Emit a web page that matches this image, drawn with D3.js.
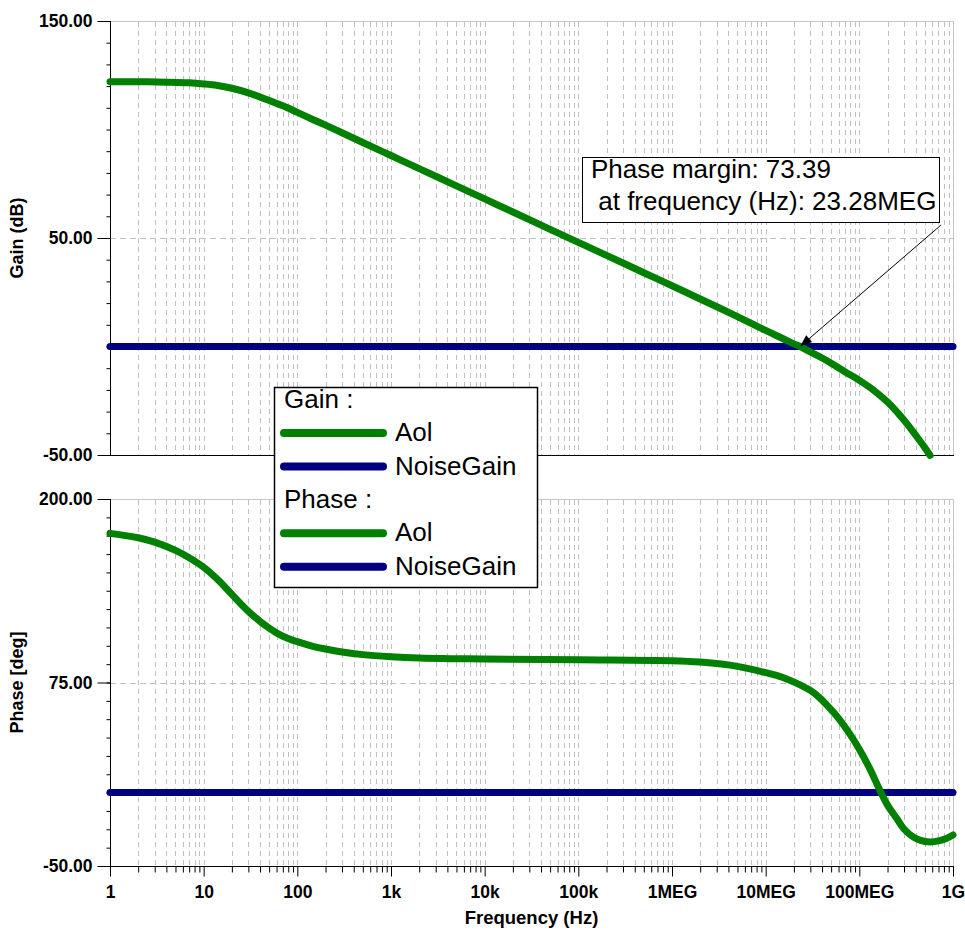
<!DOCTYPE html>
<html><head><meta charset="utf-8">
<script src="https://cdn.jsdelivr.net/npm/d3@7"></script>
<style>
html,body{margin:0;padding:0;background:#fff;}
svg{display:block;font-family:"Liberation Sans",Arial,Helvetica,sans-serif;}
</style></head>
<body>
<svg id="chart" width="965" height="932"></svg>
<script>
// ---------- data ----------
const gainFreq = [1,2,4,7,10,14,20,30,50,70,100,150,200,300,500,1e3,2e3,5e3,1e4,2e4,5e4,1e5,2e5,5e5,1e6,2e6,5e6,1e7,1.5e7,2e7,2.328e7,3e7,4e7,5e7,7e7,1e8,1.4e8,2e8,2.6e8,3.2e8,4e8,5e8,5.7e8];
const gainAol  = [122.0,122.0,121.8,121.5,121.0,120.3,119.0,116.9,113.4,110.9,107.9,104.4,102.0,98.5,94.0,88.0,82.0,74.0,68.0,62.0,54.0,48.0,42.0,34.0,28.0,21.9,13.8,7.4,3.8,1.2,0.0,-2.5,-5.3,-7.7,-11.6,-15.6,-19.9,-25.6,-30.8,-35.4,-40.9,-46.6,-50.2];
const phaseFreq = [1,2,3,5,7,10,15,20,30,50,70,100,150,200,300,500,1e3,2e3,5e3,1e4,1e5,1e6,2e6,5e6,1e7,1.5e7,2.328e7,3e7,3.7e7,4.46e7,6e7,8e7,1e8,1.3e8,1.66e8,2e8,2.5e8,3e8,3.75e8,4.5e8,5.68e8,7e8,8.5e8,1e9];
const phaseAol  = [176.6,173.6,170.6,165.0,160.0,153.5,143.5,135.0,123.5,112.0,106.5,102.8,99.5,97.8,95.8,94.0,92.6,91.7,91.2,91.0,90.5,89.9,88.9,86.0,81.7,78.6,73.39,69.6,65.1,59.9,50.6,39.5,29.5,16.0,1.5,-8.5,-17.5,-24.8,-30.2,-32.6,-33.6,-32.9,-31.2,-28.9];
const noiseFreq = [1,1e9];
const noiseGainGain  = [0,0];
const noiseGainPhase = [0,0];
const xTickValues = [1,10,100,1e3,1e4,1e5,1e6,1e7,1e8,1e9];
const xTickLabels = ["1","10","100","1k","10k","100k","1MEG","10MEG","100MEG","1G"];
const gainTicks = [150,50,-50];
const phaseTicks = [200,75,-50];
const legendGroups = ["Gain :","Phase :"];
const legendSeries = ["Aol","NoiseGain"];
const pmFreq = 23.28e6, pmGain = 0;
const annotationLines = ["Phase margin: 73.39"," at frequency (Hz): 23.28MEG"];

// ---------- layout ----------
const GREEN="#008000", NAVY="#000080", GRID="#c0c0c0";
const L=110, R=953;
const topP={t:21,b:455}, botP={t:499,b:866};
const svg=d3.select("#chart");

const x=d3.scaleLog().domain([1,1e9]).range([L,R]);
const yG=d3.scaleLinear().domain([-50,150]).range([topP.b,topP.t]);
const yP=d3.scaleLinear().domain([-50,200]).range([botP.b,botP.t]);

const minorX=[];
for(let d=0;d<9;d++) for(let k=2;k<=10;k++) minorX.push(k*Math.pow(10,d));

function panel(y,p,ticks,minorStep,gridVals,title){
  const g=svg.append("g");
  g.append("line").attr("x1",L).attr("x2",R+0.5).attr("y1",p.t+0.5).attr("y2",p.t+0.5).attr("stroke","#c8c8c8");
  g.append("line").attr("x1",R+0.5).attr("x2",R+0.5).attr("y1",p.t).attr("y2",p.b).attr("stroke","#c8c8c8");
  g.selectAll(".vg").data(minorX).enter().append("line")
    .attr("x1",d=>Math.round(x(d))+0.5).attr("x2",d=>Math.round(x(d))+0.5)
    .attr("y1",p.t+1).attr("y2",p.b)
    .attr("stroke",GRID).attr("stroke-dasharray","5,4");
  g.selectAll(".hg").data(gridVals).enter().append("line")
    .attr("x1",L).attr("x2",R).attr("y1",d=>Math.round(y(d))+0.5).attr("y2",d=>Math.round(y(d))+0.5)
    .attr("stroke",GRID).attr("stroke-dasharray","6,4");
  const [lo,hi]=y.domain();
  const minorY=d3.range(lo,hi+0.001,minorStep);
  const aMin=d3.axisLeft(y).tickValues(minorY).tickSize(4).tickFormat("");
  const gm=g.append("g").attr("transform",`translate(${L+0.5},0)`).call(aMin);
  gm.select(".domain").remove();
  const aMaj=d3.axisLeft(y).tickValues(ticks).tickSize(13).tickPadding(5).tickFormat(d=>d.toFixed(2));
  const ga=g.append("g").attr("transform",`translate(${L+0.5},0)`).call(aMaj);
  ga.select(".domain").attr("d",`M0,${p.t}V${p.b}`).attr("stroke","#000");
  ga.selectAll("text").attr("font-size","17.5px").attr("font-weight","bold").attr("fill","#000")
    .attr("font-family","Liberation Sans, Arial, sans-serif");
  g.append("line").attr("x1",L).attr("x2",R+1).attr("y1",p.b+0.5).attr("y2",p.b+0.5).attr("stroke","#000").attr("stroke-width",1.2);
  svg.append("text").attr("transform",`translate(23,${(p.t+p.b)/2}) rotate(-90)`)
    .attr("text-anchor","middle").attr("font-size","18px").attr("font-weight","bold").text(title);
  return g;
}
panel(yG,topP,gainTicks,10,[50],"Gain (dB)");
panel(yP,botP,phaseTicks,12.5,[75],"Phase [deg]");

// x axis (bottom panel)
const axMinor=d3.axisBottom(x).tickValues(minorX.filter(v=>!xTickValues.includes(v))).tickSize(6).tickFormat("");
const gxm=svg.append("g").attr("transform",`translate(0,${botP.b+0.5})`).call(axMinor);
gxm.select(".domain").remove();
const axMajor=d3.axisBottom(x).tickValues(xTickValues).tickSize(10).tickPadding(9)
  .tickFormat((d,i)=>xTickLabels[i]);
const gx=svg.append("g").attr("transform",`translate(0,${botP.b+0.5})`).call(axMajor);
gx.select(".domain").remove();
gx.selectAll("text").attr("font-size","17.5px").attr("font-weight","bold").attr("fill","#000")
  .attr("font-family","Liberation Sans, Arial, sans-serif");
svg.append("text").attr("x",(L+R)/2).attr("y",924).attr("text-anchor","middle")
  .attr("font-size","18.5px").attr("font-weight","bold").text("Frequency (Hz)");

// curves
function curve(fr,vals,y,color){
  const line=d3.line().x((d,i)=>x(fr[i])).y(d=>y(d)).curve(d3.curveCatmullRom.alpha(0.5));
  svg.append("path").attr("d",line(vals)).attr("fill","none").attr("stroke",color)
    .attr("stroke-width",7).attr("stroke-linecap","round").attr("stroke-linejoin","round");
}
curve(noiseFreq,noiseGainGain,yG,NAVY);
curve(gainFreq,gainAol,yG,GREEN);
curve(noiseFreq,noiseGainPhase,yP,NAVY);
curve(phaseFreq,phaseAol,yP,GREEN);

// legend
const lg=svg.append("g");
lg.append("rect").attr("x",274.5).attr("y",387.5).attr("width",263).attr("height",200)
  .attr("fill","#fff").attr("stroke","#000").attr("stroke-width",1.5);
const colors=[GREEN,NAVY];
legendGroups.forEach((grp,gi)=>{
  const base=408+gi*100.2;
  lg.append("text").attr("x",284).attr("y",base).attr("font-size","26px").text(grp);
  legendSeries.forEach((s,si)=>{
    const yy=base+25+si*33.5;
    lg.append("line").attr("x1",284).attr("x2",383).attr("y1",yy).attr("y2",yy)
      .attr("stroke",colors[si]).attr("stroke-width",8).attr("stroke-linecap","round");
    lg.append("text").attr("x",395).attr("y",yy+8).attr("font-size","26px").text(s);
  });
});

// annotation
const ag=svg.append("g");
ag.append("rect").attr("x",582.5).attr("y",157.5).attr("width",357).attr("height",65)
  .attr("fill","#fff").attr("stroke","#000").attr("stroke-width",1);
ag.append("text").attr("x",591).attr("y",178).attr("font-size","26px").text(annotationLines[0]);
ag.append("text").attr("x",591).attr("y",210).attr("font-size","26px")
  .style("white-space","pre").text(annotationLines[1]);
const tx=x(pmFreq), ty=yG(pmGain);
const sx=941, sy=225;
const ang=Math.atan2(ty-sy,tx-sx);
ag.append("line").attr("x1",sx).attr("y1",sy).attr("x2",tx-Math.cos(ang)*8).attr("y2",ty-Math.sin(ang)*8)
  .attr("stroke","#000").attr("stroke-width",1);
const ah=12, aw=4.5;
const bx=tx-Math.cos(ang)*ah, by=ty-Math.sin(ang)*ah;
ag.append("path").attr("d",`M${tx},${ty}L${bx-Math.sin(ang)*aw},${by+Math.cos(ang)*aw}L${bx+Math.sin(ang)*aw},${by-Math.cos(ang)*aw}Z`)
  .attr("fill","#000");
</script>
</body></html>
